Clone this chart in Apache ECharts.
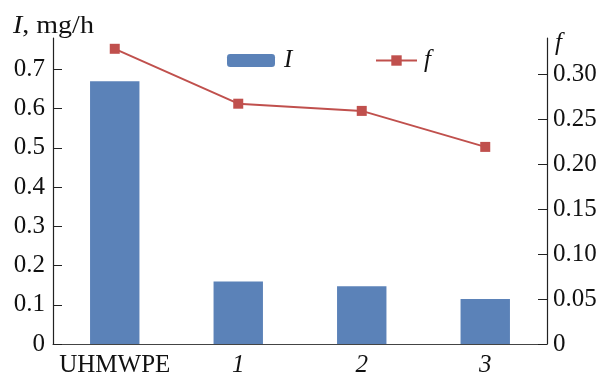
<!DOCTYPE html>
<html>
<head>
<meta charset="utf-8">
<script src="https://cdn.jsdelivr.net/npm/echarts@6/dist/echarts.min.js"></script>
<style>html,body{margin:0;padding:0;background:#fff}#c{width:608px;height:378px}</style>
</head>
<body>
<div id="c"></div>
<script>
var categories = ['UHMWPE', '1', '2', '3'];
var wearRate = [0.67, 0.159, 0.147, 0.115];
var friction = [0.328, 0.267, 0.259, 0.219];
var leftTicks = [0, 0.1, 0.2, 0.3, 0.4, 0.5, 0.6, 0.7];
var rightTicks = [0, 0.05, 0.10, 0.15, 0.20, 0.25, 0.30];

var FONT = 'Liberation Serif';
var FS = 25;
var chart = echarts.init(document.getElementById('c'), null, {renderer: 'canvas'});
chart.setOption({
  animation: false,
  backgroundColor: '#fff',
  grid: {left: 53, right: 61, top: 38, bottom: 34},
  legend: [
    {data: ['I'], left: 222, top: 43, itemWidth: 48, itemHeight: 13, itemGap: 0,
     textStyle: {fontFamily: FONT, fontSize: FS, fontStyle: 'italic', color: '#111', lineHeight: 22, padding: [0, 0, 0, 4]}},
    {data: ['f'], left: 370, top: 43, itemWidth: 41, itemHeight: 13, itemGap: 0,
     textStyle: {fontFamily: FONT, fontSize: FS, fontStyle: 'italic', color: '#111', lineHeight: 22, padding: [0, 0, 0, 2]}}
  ],
  graphic: [
    {type: 'text', left: 13, top: 14, scaleX: 1.12, style: {text: '{i|I}, mg/h', fill: '#111', fontFamily: FONT, fontSize: FS,
      rich: {i: {fontStyle: 'italic', fontFamily: FONT, fontSize: FS, fill: '#111'}}}},
    {type: 'text', left: 555, top: 31, style: {text: 'f', fill: '#111', fontFamily: FONT, fontSize: FS, fontStyle: 'italic'}}
  ],
  xAxis: {
    type: 'category', data: categories, boundaryGap: true,
    axisLine: {lineStyle: {color: '#444', width: 1.2}},
    axisTick: {inside: true, length: 8, lineStyle: {color: '#333'}},
    axisLabel: {interval: 0, margin: 9, color: '#111', fontFamily: FONT, fontSize: FS,
      formatter: function (v) { return v === 'UHMWPE' ? v : '{i|' + v + '}'; },
      rich: {i: {fontStyle: 'italic', fontFamily: FONT, fontSize: FS, color: '#111'}}},
    splitLine: {show: false}
  },
  yAxis: [
    {type: 'value', min: 0, max: 0.78, position: 'left',
     axisLine: {show: true, lineStyle: {color: '#222', width: 1.2}},
     axisTick: {show: true, inside: true, length: 9, customValues: leftTicks, lineStyle: {color: '#222'}},
     axisLabel: {customValues: leftTicks, margin: 8, color: '#111', fontFamily: FONT, fontSize: FS,
       formatter: function (v) { return v === 0 ? '0' : v.toFixed(1); }},
     splitLine: {show: false}},
    {type: 'value', min: 0, max: 0.34, position: 'right',
     axisLine: {show: true, lineStyle: {color: '#222', width: 1.2}},
     axisTick: {show: true, inside: true, length: 9, customValues: rightTicks, lineStyle: {color: '#222'}},
     axisLabel: {customValues: rightTicks, margin: 6, color: '#111', fontFamily: FONT, fontSize: FS,
       formatter: function (v) { return v === 0 ? '0' : v.toFixed(2); }},
     splitLine: {show: false}}
  ],
  series: [
    {name: 'I', type: 'bar', data: wearRate, yAxisIndex: 0, barWidth: '40%',
     itemStyle: {color: '#5b82b8'}},
    {name: 'f', type: 'line', data: friction, yAxisIndex: 1, symbol: 'rect', symbolSize: 10,
     lineStyle: {color: '#c0504d', width: 2}, itemStyle: {color: '#c0504d'}}
  ]
});
</script>
</body>
</html>
